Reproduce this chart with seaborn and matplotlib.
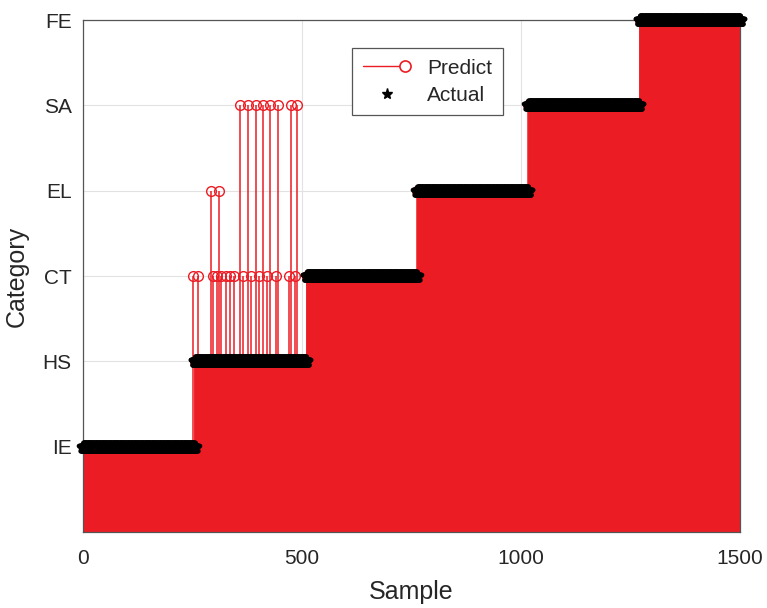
import numpy as np
import pandas as pd
import matplotlib
matplotlib.use("Agg")
import matplotlib.pyplot as plt
import seaborn as sns
from matplotlib.lines import Line2D

# ---------------- data ----------------
categories = ["IE", "HS", "CT", "EL", "SA", "FE"]
class_ends = [255, 510, 762, 1016, 1270, 1500]   # last sample index of each class
n_samples = 1500
x_ticks = [0, 500, 1000, 1500]

# misclassified samples (all truly HS) and their predicted class
mis_ct = [252, 262, 297, 306, 316, 326, 336, 346, 366, 384, 402, 420, 440, 470, 484]
mis_el = [292, 310]
mis_sa = [358, 376, 395, 412, 428, 445, 475, 488]

# ---------------- build series ----------------
sample = np.arange(1, n_samples + 1)
actual = np.zeros(n_samples)
start = 0
for k, end in enumerate(class_ends):
    actual[start:end] = k + 1
    start = end
predict = actual.copy()
predict[np.array(mis_ct) - 1] = categories.index("CT") + 1
predict[np.array(mis_el) - 1] = categories.index("EL") + 1
predict[np.array(mis_sa) - 1] = categories.index("SA") + 1
df = pd.DataFrame({"Sample": sample, "Actual": actual, "Predict": predict})

# ---------------- style ----------------
sns.set_theme(style="white")
plt.rcParams["font.family"] = ["Liberation Sans", "DejaVu Sans"]
RED = "#EC1C24"
DARK = "#262626"

fig = plt.figure(figsize=(7.67, 6.08), dpi=100)
ax = fig.add_axes([0.108, 0.125, 0.857, 0.842])

ax.grid(True, color="#E2E2E2", linewidth=0.8)
ax.set_axisbelow(True)

markerline, stemlines, baseline = ax.stem(df["Sample"], df["Predict"], basefmt=" ")
stemlines.set_color(RED)
stemlines.set_linewidth(1.1)
stemlines.set_zorder(2)
markerline.set_marker("o")
markerline.set_markerfacecolor("none")
markerline.set_markeredgecolor(RED)
markerline.set_markersize(7)
markerline.set_markeredgewidth(1.0)
markerline.set_zorder(3)

sns.scatterplot(data=df, x="Sample", y="Actual", marker="*", color="black",
                s=45, linewidth=3.5, edgecolor="black", ax=ax, zorder=4,
                legend=False, clip_on=False)
ax.collections[-1].set_joinstyle("round")

ax.set_xlim(0, 1500)
ax.set_ylim(0, 6)
ax.set_xticks(x_ticks)
ax.set_xticklabels([str(t) for t in x_ticks])
ax.set_yticks(range(1, len(categories) + 1))
ax.set_yticklabels(categories)
ax.tick_params(direction="in", length=4, width=0.8, labelsize=15,
               colors=DARK, labelcolor=DARK)
ax.tick_params(axis="x", pad=12)
ax.tick_params(axis="y", pad=8)
ax.set_xlabel("Sample", fontsize=18, color=DARK, labelpad=9)
ax.set_ylabel("Category", fontsize=18, color=DARK, labelpad=10)
for sp in ax.spines.values():
    sp.set_color("#555555")
    sp.set_linewidth(0.9)


class StemHandler:
    def legend_artist(self, legend, orig_handle, fontsize, handlebox):
        x0, y0 = handlebox.xdescent, handlebox.ydescent
        w, h = handlebox.width, handlebox.height
        ln = Line2D([x0, x0 + w * 0.88], [y0 + h / 2] * 2, color=RED, lw=1)
        mk = Line2D([x0 + w * 0.88], [y0 + h / 2], marker="o", mfc="white",
                    mec=RED, ms=8, mew=1.2, ls="none")
        handlebox.add_artist(ln)
        handlebox.add_artist(mk)
        return ln


class PredictProxy:
    pass


pred_proxy = PredictProxy()
act_handle = Line2D([], [], marker="*", color="black", ls="none", ms=8)
leg = ax.legend([pred_proxy, act_handle], ["Predict", "Actual"],
                handler_map={PredictProxy: StemHandler()},
                loc="upper left", bbox_to_anchor=(0.41, 0.945),
                borderaxespad=0,
                fontsize=15, frameon=True, fancybox=False, framealpha=1,
                edgecolor="#555555", handlelength=2.3, handletextpad=0.8,
                borderpad=0.5, labelspacing=0.4)
leg.get_frame().set_linewidth(0.9)
for t in leg.get_texts():
    t.set_color(DARK)

fig.savefig("out.png", dpi=100)
